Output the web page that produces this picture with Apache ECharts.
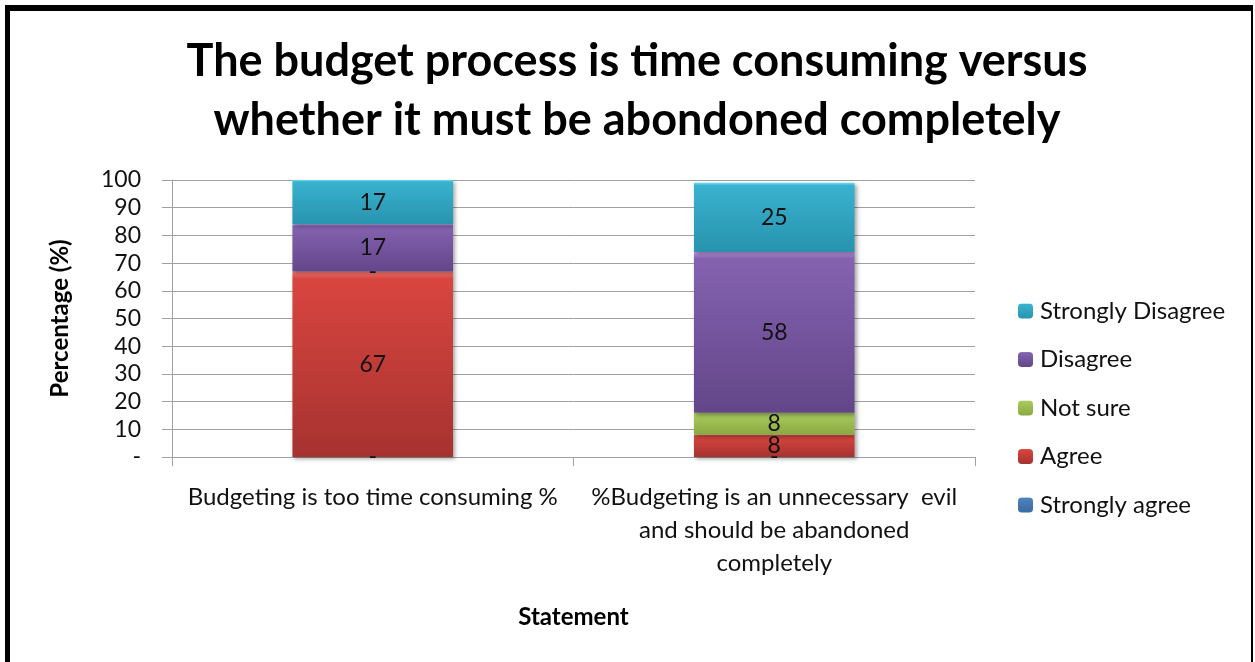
<!DOCTYPE html>
<html>
<head>
<meta charset="utf-8">
<script src="https://cdn.jsdelivr.net/npm/echarts@6/dist/echarts.min.js"></script>
<style>
  html, body { margin: 0; padding: 0; background: #fff; }
  #chart { position: absolute; left: 0; top: 0; width: 1255px; height: 662px; }
  #frame {
    position: absolute; left: 5px; top: 5px; width: 1241px; height: 680px;
    border-top: 6px solid #000; border-left: 5px solid #000; border-right: 2px solid #000;
    pointer-events: none;
  }
</style>
</head>
<body>
<div id="chart"></div>
<div id="frame"></div>
<script>
// Survey responses (%) per statement
const categories = [
  'Budgeting is too time consuming %',
  '%Budgeting is an unnecessary  evil\nand should be abandoned\ncompletely'
];
const stronglyAgree = [0, 0];
const agree = [67, 8];
const notSure = [0, 8];
const disagree = [17, 58];
const stronglyDisagree = [17, 25];
const yTicks = [0, 10, 20, 30, 40, 50, 60, 70, 80, 90, 100];

const FONT = 'Lato';

function grad(top, mid, bottom) {
  return {
    type: 'linear', x: 0, y: 0, x2: 0, y2: 1,
    colorStops: [
      { offset: 0, color: top },
      { offset: 0.04, color: mid },
      { offset: 1, color: bottom }
    ]
  };
}

function makeSeries(name, data, color) {
  return {
    name: name,
    type: 'bar',
    stack: 'total',
    barWidth: '40%',
    data: data,
    itemStyle: {
      color: color,
      shadowColor: 'rgba(0,0,0,0.35)',
      shadowBlur: 4,
      shadowOffsetX: 2,
      shadowOffsetY: 2
    },
    label: {
      show: true,
      position: 'inside',
      color: '#111',
      fontFamily: FONT,
      fontSize: 23,
      formatter: p => (p.value === 0 ? '-' : String(p.value))
    }
  };
}

const chart = echarts.init(document.getElementById('chart'));
chart.setOption({
  animation: false,
  backgroundColor: '#fff',
  title: {
    text: 'The budget process is time consuming versus\nwhether it must be abondoned completely',
    left: 632,
    top: 27,
    textAlign: 'center',
    textStyle: {
      fontFamily: FONT,
      fontWeight: 'bold',
      fontSize: 45,
      lineHeight: 59,
      color: '#000'
    }
  },
  legend: {
    orient: 'vertical',
    left: 1013,
    top: 294,
    itemWidth: 15,
    itemHeight: 15,
    itemGap: 24.5,
    data: ['Strongly Disagree', 'Disagree', 'Not sure', 'Agree', 'Strongly agree'],
    textStyle: { fontFamily: FONT, fontSize: 24, color: '#111', padding: [0, 0, 0, 2] }
  },
  grid: { left: 172, right: 280, top: 180, bottom: 205, containLabel: false },
  xAxis: {
    type: 'category',
    data: categories,
    name: 'Statement',
    nameLocation: 'middle',
    nameGap: 148,
    nameTextStyle: { fontFamily: FONT, fontWeight: 'bold', fontSize: 24, color: '#000' },
    axisLine: { lineStyle: { color: '#a0a0a0', width: 1 } },
    axisTick: { show: true, length: 9, lineStyle: { color: '#a0a0a0' } },
    axisLabel: {
      fontFamily: FONT, fontSize: 24, color: '#111', lineHeight: 33, margin: 24,
      interval: 0
    }
  },
  yAxis: {
    type: 'value',
    min: 0,
    max: 100,
    interval: 10,
    name: 'Percentage (%)',
    nameLocation: 'middle',
    nameGap: 100,
    nameTextStyle: { fontFamily: FONT, fontWeight: 'bold', fontSize: 24, color: '#000' },
    axisLine: { show: true, lineStyle: { color: '#a0a0a0' } },
    axisTick: { show: true, length: 10, lineStyle: { color: '#a0a0a0' } },
    splitLine: { show: true, lineStyle: { color: '#a0a0a0', width: 1 } },
    axisLabel: {
      fontFamily: FONT, fontSize: 23, color: '#111', margin: 31,
      customValues: yTicks,
      formatter: v => (v === 0 ? '-' : String(v))
    }
  },
  series: [
    makeSeries('Strongly agree', stronglyAgree, grad('#6e9fd8', '#4f81bd', '#3a6aa3')),
    makeSeries('Agree', agree, grad('#f07a72', '#d9453f', '#a63230')),
    makeSeries('Not sure', notSure, grad('#cfe88a', '#a9cb5c', '#8aa843')),
    makeSeries('Disagree', disagree, grad('#c39be8', '#8462b0', '#634689')),
    makeSeries('Strongly Disagree', stronglyDisagree, grad('#6be0f5', '#39b2cf', '#2893ae'))
  ]
});
</script>
</body>
</html>
